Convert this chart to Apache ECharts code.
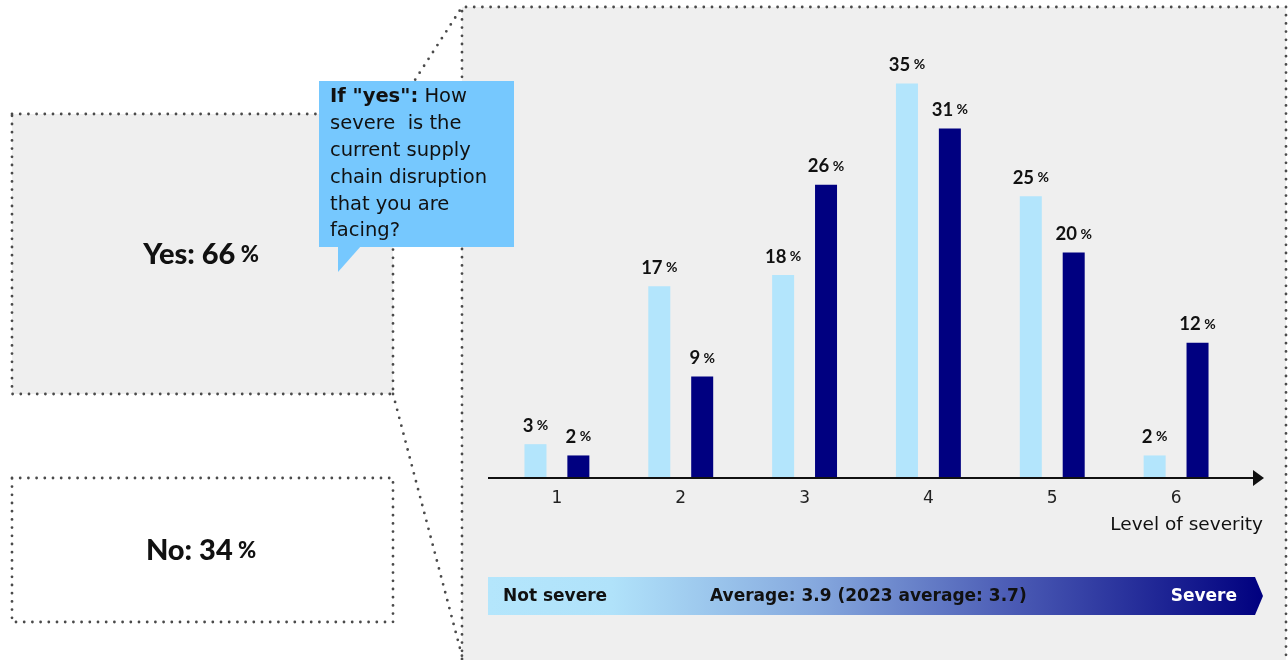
<!DOCTYPE html>
<html>
<head>
<meta charset="utf-8">
<script src="https://cdn.jsdelivr.net/npm/echarts@6/dist/echarts.min.js"></script>
<style>
  html, body { margin: 0; padding: 0; background: #ffffff; }
  #chart { width: 1288px; height: 660px; }
</style>
</head>
<body>
<div id="chart"></div>
<script>
// Survey data: severity of current supply chain disruption (1 = not severe, 6 = severe)
const levels = ['1', '2', '3', '4', '5', '6'];
const share2023 = [3, 17, 18, 35, 25, 2];
const share2024 = [2, 9, 26, 31, 20, 12];
const yesShare = 66;
const noShare = 34;
const average2024 = 3.9;
const average2023 = 3.7;

const LIGHT = '#b3e5fc';
const NAVY = '#000080';
const PANEL = '#efefef';
const BUBBLE = '#76c8fe';
const TEXT = '#111111';

const SANS = 'DejaVu Sans';
const NUM = 'Lato';

const dotted = {
  stroke: '#4a4a4a',
  lineWidth: 2.8,
  lineDash: [0, 8.2],
  lineCap: 'round',
  fill: null
};

const chart = echarts.init(document.getElementById('chart'), null, { renderer: 'canvas' });

const pctLabel = {
  show: true,
  position: 'top',
  distance: 9,
  formatter: '{v|{c}}{p| %}',
  rich: {
    v: { fontFamily: NUM, fontWeight: 'bold', fontSize: 18.5, color: TEXT },
    p: { fontFamily: NUM, fontWeight: 'bold', fontSize: 14, color: TEXT }
  }
};

chart.setOption({
  backgroundColor: '#ffffff',
  animation: false,
  grid: { left: 495, right: 50, top: 27, bottom: 182 },
  xAxis: {
    type: 'category',
    data: levels,
    axisLine: { show: false },
    axisTick: { show: false },
    axisLabel: { fontFamily: SANS, fontSize: 17, color: '#222222', margin: 12 }
  },
  yAxis: {
    type: 'value',
    min: 0,
    max: 40,
    show: false,
    splitLine: { show: false }
  },
  series: [
    {
      name: '2023',
      type: 'bar',
      data: share2023,
      barWidth: 22,
      barGap: '95%',
      itemStyle: { color: LIGHT },
      label: pctLabel
    },
    {
      name: '2024',
      type: 'bar',
      data: share2024,
      barWidth: 22,
      itemStyle: { color: NAVY },
      label: pctLabel
    }
  ]
});

// Decorations placed relative to the plotted axis
const baseY = chart.convertToPixel({ yAxisIndex: 0 }, 0);

const shareText = (label, value, y) => ({
  type: 'text', z: 5, x: 201, y: y,
  style: {
    text: '{a|' + label + ': ' + value + '}{p| %}',
    align: 'center', verticalAlign: 'middle',
    rich: {
      a: { fontFamily: NUM, fontWeight: 900, fontSize: 29, fill: TEXT },
      p: { fontFamily: NUM, fontWeight: 900, fontSize: 22, fill: TEXT }
    }
  }
});

const graphics = [
  // grey panel behind the bar chart
  { type: 'rect', z: -20, shape: { x: 462, y: 7, width: 824, height: 700 }, style: { fill: PANEL } },
  { type: 'polyline', z: -19, shape: { points: [[462, 700], [462, 7], [1286, 7], [1286, 700]] }, style: dotted },

  // "Yes" box
  { type: 'rect', z: -18, shape: { x: 12, y: 114, width: 381, height: 280 }, style: Object.assign({}, dotted, { fill: PANEL }) },
  // "No" box
  { type: 'rect', z: -18, shape: { x: 12, y: 478, width: 381, height: 144 }, style: Object.assign({}, dotted, { fill: '#ffffff' }) },

  // zoom lines from the "Yes" box to the panel
  { type: 'line', z: -17, shape: { x1: 393, y1: 114, x2: 462, y2: 7 }, style: dotted },
  { type: 'line', z: -17, shape: { x1: 393, y1: 394, x2: 462, y2: 656 }, style: dotted },

  // Yes / No shares
  shareText('Yes', yesShare, 255),
  shareText('No', noShare, 551),

  // speech bubble with the question
  { type: 'rect', z: 10, shape: { x: 319, y: 81, width: 195, height: 166 }, style: { fill: BUBBLE } },
  { type: 'polygon', z: 10, shape: { points: [[338, 246], [338, 272], [361, 246]] }, style: { fill: BUBBLE } },
  {
    type: 'text', z: 11, x: 330, y: 84,
    style: {
      text: '{b|If "yes":} How\nsevere  is the\ncurrent supply\nchain disruption\nthat you are\nfacing?',
      fontFamily: SANS, fontSize: 19.5, lineHeight: 26.8, fill: TEXT,
      align: 'left', verticalAlign: 'top',
      rich: {
        b: { fontFamily: SANS, fontWeight: 'bold', fontSize: 19.5, lineHeight: 26.8, fill: TEXT }
      }
    }
  },

  // x axis line with arrow head
  { type: 'line', z: 3, shape: { x1: 488, y1: baseY, x2: 1254, y2: baseY }, style: { stroke: '#111111', lineWidth: 2 } },
  { type: 'polygon', z: 3, shape: { points: [[1253, baseY - 8], [1264, baseY], [1253, baseY + 8]] }, style: { fill: '#111111' } },
  {
    type: 'text', z: 3, x: 1263, y: baseY + 47,
    style: { text: 'Level of severity', fontFamily: SANS, fontSize: 18.5, fill: TEXT, align: 'right', verticalAlign: 'middle' }
  },

  // severity scale arrow
  {
    type: 'polygon', z: 3,
    shape: { points: [[488, 577], [1255, 577], [1263, 596], [1255, 615], [488, 615]] },
    style: {
      fill: new echarts.graphic.LinearGradient(0, 0, 1, 0, [
        { offset: 0, color: '#b4e6fc' },
        { offset: 0.16, color: '#b0e2fa' },
        { offset: 0.42, color: '#86a9de' },
        { offset: 0.68, color: '#4a5ab4' },
        { offset: 1, color: '#00007f' }
      ])
    }
  },
  {
    type: 'text', z: 4, x: 503, y: 597,
    style: { text: 'Not severe', fontFamily: SANS, fontWeight: 'bold', fontSize: 17, fill: TEXT, align: 'left', verticalAlign: 'middle' }
  },
  {
    type: 'text', z: 4, x: 710, y: 597,
    style: {
      text: 'Average: ' + average2024.toFixed(1) + ' (2023 average: ' + average2023.toFixed(1) + ')',
      fontFamily: SANS, fontWeight: 'bold', fontSize: 17, fill: TEXT, align: 'left', verticalAlign: 'middle'
    }
  },
  {
    type: 'text', z: 4, x: 1237, y: 597,
    style: { text: 'Severe', fontFamily: SANS, fontWeight: 'bold', fontSize: 17, fill: '#ffffff', align: 'right', verticalAlign: 'middle' }
  }
];

chart.setOption({ graphic: { elements: graphics } });
</script>
</body>
</html>
